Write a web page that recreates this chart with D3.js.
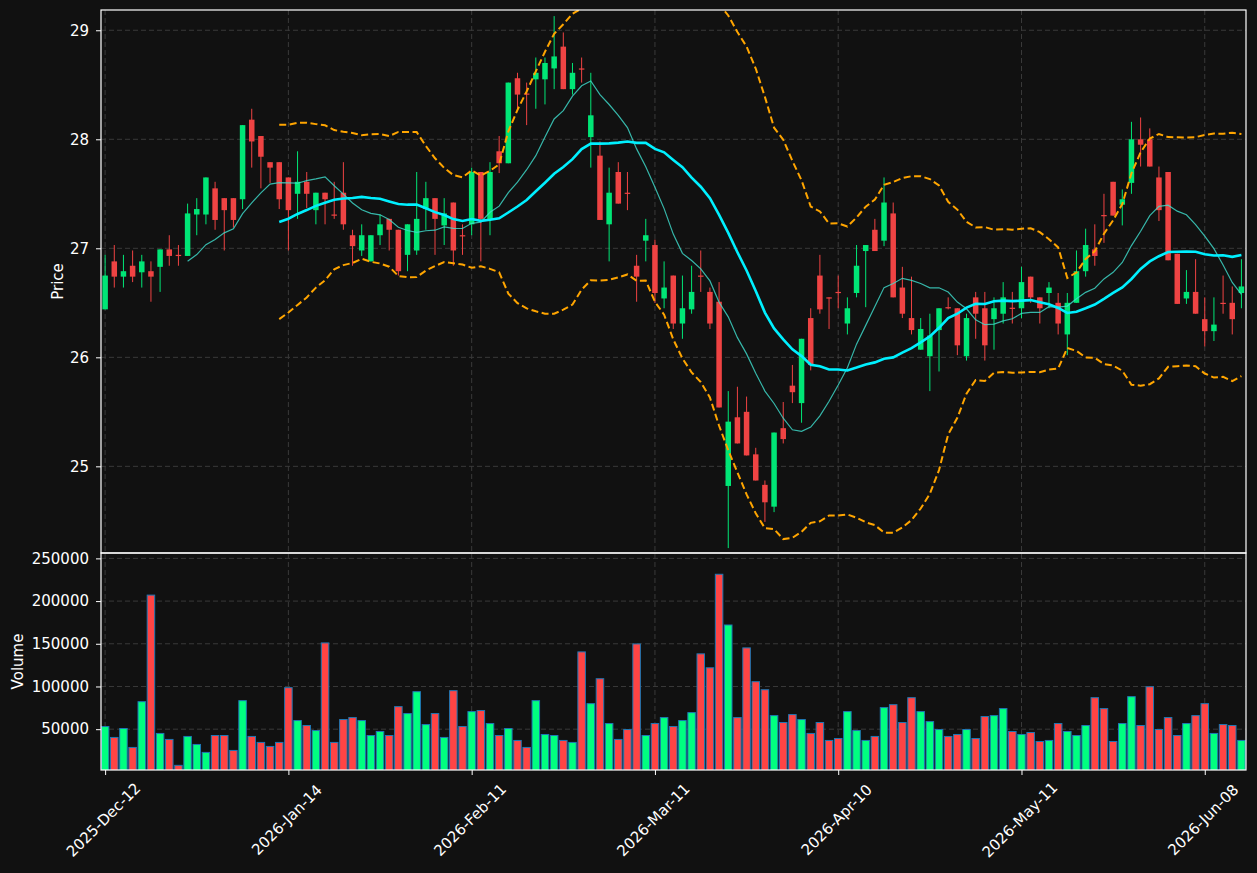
<!DOCTYPE html>
<html>
<head>
<meta charset="utf-8">
<script src="https://cdn.jsdelivr.net/npm/d3@7"></script>
<style>
  html, body { margin: 0; padding: 0; background: #111111; }
  svg { display: block; }
</style>
</head>
<body>
<svg id="chart"></svg>
<script>
// OHLC read from the candles, one entry per trading day
const opens = [26.44,26.88,26.74,26.84,26.78,26.79,26.83,26.99,26.94,26.93,
  27.31,27.31,27.55,27.46,27.46,27.45,28.18,28.03,27.79,27.79,
  27.65,27.50,27.61,27.35,27.51,27.31,27.51,27.12,26.98,26.88,
  27.12,27.27,27.17,26.94,26.98,27.36,27.46,27.21,27.42,27.12,
  27.22,27.70,27.26,27.89,27.78,28.56,28.42,28.55,28.55,28.65,
  28.85,28.46,28.65,28.02,27.85,27.22,27.70,27.51,26.84,27.07,
  27.03,26.54,26.75,26.31,26.44,26.75,26.60,26.51,24.82,25.45,
  25.50,25.11,24.83,24.63,25.35,25.74,25.58,26.36,26.75,26.55,
  26.60,26.31,26.59,26.975,27.17,27.07,27.32,26.64,26.36,26.07,
  26.01,26.25,26.46,26.45,26.01,26.55,26.45,26.35,26.40,26.455,
  26.45,26.74,26.55,26.59,26.50,26.21,26.50,26.79,26.99,27.305,
  27.61,27.40,27.60,28.00,28.00,27.65,27.70,26.95,26.54,26.60,
  26.35,26.24,26.50,26.50,26.59];
const highs = [26.94,27.03,26.94,26.98,26.94,26.88,26.99,27.12,27.03,27.41,
  27.46,27.65,27.61,27.46,27.46,28.13,28.28,28.03,27.79,27.79,
  27.65,27.89,27.70,27.51,27.51,27.61,27.79,27.17,27.22,27.12,
  27.31,27.27,27.17,27.22,27.70,27.61,27.46,27.46,27.42,27.22,
  27.74,27.70,27.79,28.03,28.52,28.61,28.52,28.75,28.75,29.13,
  28.98,28.70,28.75,28.61,27.98,27.74,27.79,27.70,26.94,27.27,
  27.08,26.88,26.75,26.75,26.84,26.98,26.64,26.69,25.69,25.73,
  25.64,25.17,24.87,25.31,25.59,25.93,26.17,26.45,26.94,26.55,
  26.75,26.55,27.03,27.03,27.27,27.65,27.42,26.83,26.74,26.36,
  26.40,26.45,26.55,26.45,26.40,26.60,26.60,26.55,26.69,26.60,
  26.83,26.74,26.55,26.69,26.59,26.59,26.98,27.18,27.22,27.50,
  27.61,27.54,28.16,28.20,28.10,27.75,27.70,26.95,26.80,26.90,
  26.55,26.55,26.75,26.65,26.90];
const lows = [26.44,26.64,26.64,26.69,26.64,26.51,26.60,26.84,26.84,26.93,
  27.12,27.22,27.17,26.98,27.19,27.36,27.74,27.55,27.60,27.36,
  26.98,27.27,27.37,27.22,27.22,27.27,27.17,26.84,26.93,26.88,
  27.03,26.98,26.75,26.79,26.94,27.17,26.94,27.03,26.84,26.94,
  27.12,26.88,27.12,27.69,27.78,28.26,28.13,28.28,28.32,28.46,
  28.46,28.41,28.52,27.74,27.26,26.88,27.41,27.35,26.51,26.88,
  26.50,26.45,26.26,26.17,26.40,26.60,26.26,25.54,24.25,25.21,
  25.10,24.87,24.49,24.58,25.21,25.58,25.40,25.88,26.40,26.26,
  26.45,26.21,26.55,26.46,26.975,27.02,26.55,26.36,26.21,26.07,
  25.69,25.87,26.44,26.02,25.97,26.17,25.97,26.07,26.31,26.31,
  26.36,26.50,26.31,26.45,26.21,26.02,26.50,26.74,26.84,27.05,
  27.30,27.21,27.50,27.75,27.75,27.25,26.89,26.49,26.49,26.40,
  26.10,26.15,26.40,26.21,26.45];
const closes = [26.75,26.74,26.79,26.74,26.88,26.74,26.99,26.93,26.935,27.32,
  27.36,27.65,27.26,27.35,27.26,28.13,27.98,27.84,27.74,27.45,
  27.35,27.61,27.50,27.51,27.45,27.305,27.22,27.02,27.12,27.12,
  27.22,27.17,26.79,27.22,27.27,27.46,27.27,27.32,26.98,27.115,
  27.70,27.27,27.70,27.78,28.52,28.41,28.415,28.61,28.70,28.76,
  28.46,28.61,28.645,28.22,27.26,27.51,27.41,27.505,26.74,27.12,
  26.59,26.64,26.31,26.45,26.60,26.745,26.31,25.54,25.41,25.21,
  25.10,24.87,24.67,25.31,25.25,25.68,26.17,25.93,26.44,26.545,
  26.595,26.45,26.84,27.03,26.975,27.42,26.55,26.40,26.25,26.26,
  26.20,26.45,26.455,26.11,26.36,26.40,26.11,26.45,26.55,26.45,
  26.69,26.55,26.45,26.64,26.31,26.50,26.79,27.03,26.93,27.30,
  27.30,27.45,28.00,27.95,27.75,27.35,26.89,26.49,26.60,26.40,
  26.24,26.30,26.495,26.35,26.65];
const volumes = [53100,40300,50800,28600,82200,207000,45000,38000,7650,41500,
  32100,22800,42600,42600,25100,83400,41500,34500,29800,34500,
  98600,60100,54300,48400,151000,34500,61300,63600,60100,42600,
  47300,42600,76400,68300,93900,55400,68300,40300,95100,53100,
  70600,71800,56600,42600,50800,36800,28600,83400,43800,42600,
  36800,34500,140500,79900,109100,56600,38000,49600,149800,42600,
  56600,63600,53100,60100,69400,138200,121900,231400,172000,63600,
  145200,105600,96200,65900,57800,67100,61300,45000,57800,36800,
  39100,70600,48400,36800,41500,75300,78700,57800,86900,70600,
  58900,49600,41500,43800,49600,39100,64800,65900,74100,47300,
  43800,46100,35600,36800,56600,47300,42600,54300,86900,74100,
  35600,56600,88100,54300,99700,49600,63600,42600,56600,65900,
  79900,45000,55400,54300,36800];

const dateTickIdx = [0, 20, 40, 60, 80, 100, 120];
const dateTickLabels = ["2025-Dec-12", "2026-Jan-14", "2026-Feb-11", "2026-Mar-11",
  "2026-Apr-10", "2026-May-11", "2026-Jun-08"];
const priceTicks = [25, 26, 27, 28, 29];
const volumeTicks = [50000, 100000, 150000, 200000, 250000];

const bars = opens.map((o, i) => ({
  i, open: o, high: highs[i], low: lows[i], close: closes[i], vol: volumes[i],
  up: closes[i] >= o,
}));

// rolling indicators on the closes (10/20 SMA, 20-day bands at 2 sd)
function rolling(n, fn) {
  return closes.map((c, i) => (i < n - 1 ? null : fn(closes.slice(i - n + 1, i + 1))));
}
const sma10 = rolling(10, (w) => d3.mean(w));
const sma20 = rolling(20, (w) => d3.mean(w));
const bbUpper = rolling(20, (w) => d3.mean(w) + 2 * d3.deviation(w));
const bbLower = rolling(20, (w) => d3.mean(w) - 2 * d3.deviation(w));

const width = 1257, height = 873;
const left = 101, right = 1246;
const priceTop = 10, priceBottom = 553, volBottom = 770;
const font = "DejaVu Sans, sans-serif";

const svg = d3.select("#chart").attr("width", width).attr("height", height)
  .style("font-family", font);
svg.append("rect").attr("width", width).attr("height", height).attr("fill", "#111111");

const x = d3.scaleLinear().domain([-0.45, 124.5]).range([left, right]);
const step = x(1) - x(0);
const y = d3.scaleLinear().domain([24.205, 29.186]).range([priceBottom, priceTop]);
const yv = d3.scaleLinear().domain([2200, 256300]).range([volBottom, priceBottom]);

const defs = svg.append("defs");
defs.append("clipPath").attr("id", "clipPrice").append("rect")
  .attr("x", left).attr("y", priceTop).attr("width", right - left).attr("height", priceBottom - priceTop);
defs.append("clipPath").attr("id", "clipVol").append("rect")
  .attr("x", left).attr("y", priceBottom).attr("width", right - left).attr("height", volBottom - priceBottom);

// Grid
const grid = svg.append("g").attr("stroke", "#3a3a3a").attr("stroke-width", 1)
  .attr("stroke-dasharray", "5,3");
dateTickIdx.forEach((t) => {
  grid.append("line").attr("x1", x(t)).attr("x2", x(t)).attr("y1", priceTop).attr("y2", volBottom);
});
priceTicks.forEach((t) => {
  grid.append("line").attr("x1", left).attr("x2", right).attr("y1", y(t)).attr("y2", y(t));
});
volumeTicks.forEach((t) => {
  grid.append("line").attr("x1", left).attr("x2", right).attr("y1", yv(t)).attr("y2", yv(t));
});

// Price panel
const price = svg.append("g").attr("clip-path", "url(#clipPrice)");
const upC = "#00e676", downC = "#ef4343";

price.selectAll("line.wick").data(bars).enter().append("line")
  .attr("class", "wick")
  .attr("x1", (d) => x(d.i)).attr("x2", (d) => x(d.i))
  .attr("y1", (d) => y(d.high)).attr("y2", (d) => y(d.low))
  .attr("stroke", (d) => (d.up ? upC : downC)).attr("stroke-width", 1);

const bodyW = step * 0.6;
price.selectAll("rect.body").data(bars).enter().append("rect")
  .attr("class", "body")
  .attr("x", (d) => x(d.i) - bodyW / 2)
  .attr("width", bodyW)
  .attr("y", (d) => y(Math.max(d.open, d.close)))
  .attr("height", (d) => Math.max(1.2, Math.abs(y(d.open) - y(d.close))))
  .attr("fill", (d) => (d.up ? upC : downC));

function linePath(vals) {
  return d3.line().defined((d) => d != null).x((d, i) => x(i)).y((d) => y(d))(vals);
}
price.append("path").attr("d", linePath(sma10)).attr("fill", "none")
  .attr("stroke", "#40e0d0").attr("stroke-opacity", 0.8).attr("stroke-width", 1.2);
price.append("path").attr("d", linePath(sma20)).attr("fill", "none")
  .attr("stroke", "#00f0ff").attr("stroke-width", 2.6);
[bbUpper, bbLower].forEach((band) => {
  price.append("path").attr("d", linePath(band)).attr("fill", "none")
    .attr("stroke", "#ffa500").attr("stroke-width", 2)
    .attr("stroke-dasharray", "7,3.5");
});

// Volume panel
const vol = svg.append("g").attr("clip-path", "url(#clipVol)");
const volW = step * 0.82;
vol.selectAll("rect").data(bars).enter().append("rect")
  .attr("x", (d) => x(d.i) - volW / 2)
  .attr("width", volW)
  .attr("y", (d) => yv(d.vol))
  .attr("height", (d) => volBottom + 2 - yv(d.vol))
  .attr("fill", (d) => (d.up ? "#00ff80" : "#ff4444"))
  .attr("stroke", "#1f77b4").attr("stroke-width", 1);

// Frames
svg.append("rect").attr("x", left).attr("y", priceTop).attr("width", right - left)
  .attr("height", priceBottom - priceTop).attr("fill", "none").attr("stroke", "white").attr("stroke-width", 1.2);
svg.append("rect").attr("x", left).attr("y", priceBottom).attr("width", right - left)
  .attr("height", volBottom - priceBottom).attr("fill", "none").attr("stroke", "white").attr("stroke-width", 1.2);

// Axes
function styleAxis(g) {
  g.select(".domain").remove();
  g.selectAll(".tick line").attr("stroke", "white");
  g.selectAll(".tick text").attr("fill", "white").style("font-size", "15px").style("font-family", font);
}
svg.append("g").attr("transform", `translate(${left},0)`)
  .call(d3.axisLeft(y).tickValues(priceTicks).tickSize(5).tickPadding(7).tickFormat(d3.format("d")))
  .call(styleAxis);
svg.append("g").attr("transform", `translate(${left},0)`)
  .call(d3.axisLeft(yv).tickValues(volumeTicks).tickSize(5).tickPadding(7).tickFormat(d3.format("d")))
  .call(styleAxis);

const xAxis = svg.append("g").attr("transform", `translate(0,${volBottom})`)
  .call(d3.axisBottom(x).tickValues(dateTickIdx).tickSize(5).tickFormat((d, i) => dateTickLabels[i]))
  .call(styleAxis);
xAxis.selectAll(".tick text")
  .attr("y", 0).attr("dy", null)
  .attr("text-anchor", "middle")
  .attr("dominant-baseline", "central")
  .attr("transform", "translate(-2,50) rotate(-45)");

// Axis titles
svg.append("text").attr("transform", `translate(63,${(priceTop + priceBottom) / 2}) rotate(-90)`)
  .attr("text-anchor", "middle").attr("fill", "white").style("font-size", "15px").text("Price");
svg.append("text").attr("transform", `translate(23,${(priceBottom + volBottom) / 2}) rotate(-90)`)
  .attr("text-anchor", "middle").attr("fill", "white").style("font-size", "15px").text("Volume");
</script>
</body>
</html>
